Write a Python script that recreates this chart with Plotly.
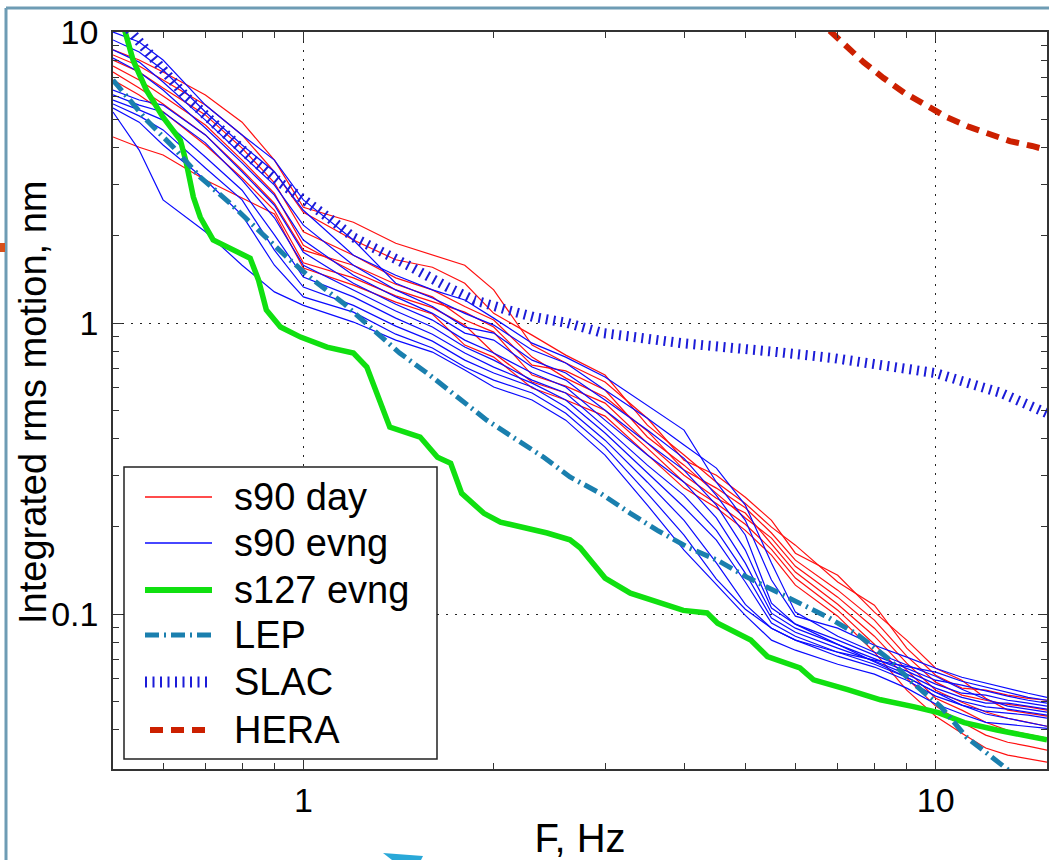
import plotly.graph_objects as go

# ---------------- data ----------------
freq_grid = [0.5, 0.55, 0.6, 0.7, 0.8, 0.9, 1.0, 1.2, 1.4, 1.6, 1.8, 2.0, 2.3, 2.6, 3.0,
             3.5, 4.0, 4.5, 5.0, 5.5, 6.0, 7.0, 8.0, 9.0, 10, 11, 12, 13, 14, 15]

s90_day = [
    [8.68, 8.01, 7.29, 6.08, 4.90, 3.63, 2.50, 2.22, 1.88, 1.71, 1.58, 1.30, 0.840, 0.729, 0.627,
     0.471, 0.338, 0.300, 0.252, 0.210, 0.162, 0.136, 0.1016, 0.0814, 0.0652, 0.0593, 0.0514, 0.0468, 0.0457, 0.0446],
    [8.34, 7.64, 6.84, 5.61, 4.43, 3.31, 2.40, 1.93, 1.65, 1.555, 1.37, 1.08, 0.909, 0.776, 0.663,
     0.446, 0.352, 0.284, 0.240, 0.199, 0.1726, 0.1289, 0.1074, 0.0764, 0.0617, 0.0557, 0.0548, 0.0527, 0.0514, 0.0506],
    [8.01, 7.29, 6.42, 5.19, 3.99, 3.03, 2.06, 1.71, 1.43, 1.30, 1.14, 1.024, 0.764, 0.647, 0.557,
     0.426, 0.3125, 0.271, 0.232, 0.190, 0.1533, 0.1209, 0.0954, 0.0717, 0.0584, 0.0527, 0.0506, 0.0490, 0.0480, 0.0468],
    [7.64, 6.84, 6.03, 4.79, 3.63, 2.79, 1.85, 1.50, 1.30, 1.18, 1.09, 0.969, 0.717, 0.685, 0.589,
     0.406, 0.325, 0.260, 0.214, 0.1825, 0.146, 0.1144, 0.0895, 0.0679, 0.0548, 0.0498, 0.0461, 0.0439, 0.0425, 0.0412],
    [7.29, 6.42, 5.66, 4.43, 3.36, 2.58, 1.78, 1.58, 1.36, 1.23, 1.024, 0.931, 0.663, 0.607, 0.531,
     0.387, 0.300, 0.250, 0.2225, 0.174, 0.1395, 0.1082, 0.0840, 0.0642, 0.0514, 0.0468, 0.0425, 0.0399, 0.0387, 0.0375],
    [6.84, 6.08, 5.32, 4.09, 3.15, 2.44, 1.61, 1.43, 1.24, 1.13, 0.984, 0.789, 0.627, 0.575, 0.502,
     0.372, 0.284, 0.240, 0.2035, 0.167, 0.133, 0.1032, 0.0788, 0.0603, 0.0483, 0.0425, 0.0384, 0.0363, 0.0352, 0.0341],
    [4.36, 4.02, 3.78, 3.10, 2.69, 2.37, 1.545, 1.35, 1.18, 1.074, 0.840, 0.764, 0.598, 0.544, 0.479,
     0.352, 0.271, 0.232, 0.194, 0.1595, 0.1258, 0.0984, 0.0740, 0.0548, 0.0446, 0.0390, 0.0347, 0.0328, 0.0318, 0.0310],
]

s90_evng = [
    [10.0, 9.24, 8.01, 5.61, 4.43, 3.63, 2.65, 1.93, 1.37, 1.22, 1.08, 0.984, 0.808, 0.729, 0.589,
     0.471, 0.381, 0.3175, 0.237, 0.150, 0.1016, 0.0840, 0.0740, 0.0668, 0.0612, 0.0552, 0.0510, 0.0483, 0.0472, 0.0461],
    [9.39, 8.54, 7.40, 5.31, 4.09, 3.31, 2.44, 1.71, 1.46, 1.30, 1.20, 1.04, 0.853, 0.764, 0.653,
     0.523, 0.429, 0.284, 0.210, 0.131, 0.0984, 0.0895, 0.0782, 0.0712, 0.0652, 0.0607, 0.0579, 0.0557, 0.0535, 0.0518],
    [8.68, 7.88, 6.73, 4.98, 3.78, 2.98, 2.17, 1.58, 1.30, 1.14, 0.969, 0.924, 0.746, 0.674, 0.544,
     0.429, 0.343, 0.256, 0.187, 0.109, 0.0924, 0.0788, 0.0690, 0.0607, 0.0539, 0.0487, 0.0454, 0.0439, 0.0425, 0.0412],
    [8.14, 7.29, 6.32, 4.68, 3.55, 2.75, 1.93, 1.46, 1.23, 1.08, 0.924, 0.874, 0.706, 0.637, 0.502,
     0.387, 0.3125, 0.237, 0.166, 0.1049, 0.0924, 0.0814, 0.0723, 0.0652, 0.0593, 0.0570, 0.0544, 0.0523, 0.0506, 0.0495],
    [6.32, 5.84, 5.61, 4.43, 3.31, 2.54, 1.75, 1.37, 1.16, 1.024, 0.874, 0.789, 0.674, 0.603, 0.464,
     0.352, 0.284, 0.214, 0.1497, 0.1008, 0.0895, 0.0788, 0.0706, 0.0637, 0.0575, 0.0535, 0.0527, 0.0506, 0.0495, 0.0483],
    [6.08, 5.61, 5.31, 4.16, 3.10, 2.30, 1.58, 1.30, 1.10, 0.969, 0.827, 0.746, 0.637, 0.575, 0.439,
     0.325, 0.256, 0.194, 0.1384, 0.0969, 0.0867, 0.0764, 0.0690, 0.0622, 0.0557, 0.0518, 0.0495, 0.0495, 0.0483, 0.0472],
    [5.84, 5.40, 4.98, 3.72, 2.86, 2.01, 1.44, 1.23, 1.04, 0.916, 0.789, 0.706, 0.622, 0.544, 0.419,
     0.305, 0.233, 0.1796, 0.129, 0.0932, 0.0840, 0.0740, 0.0673, 0.0607, 0.0539, 0.0502, 0.0480, 0.0472, 0.0461, 0.0450],
    [5.66, 5.15, 4.61, 3.41, 2.65, 1.78, 1.33, 1.15, 0.976, 0.867, 0.746, 0.674, 0.603, 0.515, 0.396,
     0.284, 0.210, 0.150, 0.1080, 0.0895, 0.0814, 0.0717, 0.0658, 0.0593, 0.0523, 0.0487, 0.0464, 0.0457, 0.0450, 0.0439],
    [5.48, 4.90, 4.09, 3.10, 2.35, 1.58, 1.23, 1.09, 0.916, 0.821, 0.706, 0.637, 0.575, 0.490, 0.375,
     0.260, 0.187, 0.132, 0.1040, 0.0895, 0.0814, 0.0740, 0.0695, 0.0663, 0.0632, 0.0588, 0.0561, 0.0539, 0.0518, 0.0506],
    [5.31, 3.93, 2.65, 2.06, 1.58, 1.28, 1.15, 1.008, 0.874, 0.795, 0.690, 0.603, 0.544, 0.464, 0.352,
     0.237, 0.166, 0.1262, 0.0990, 0.0814, 0.0752, 0.0673, 0.0622, 0.0557, 0.0491, 0.0454, 0.0425, 0.0418, 0.0412, 0.0405],
]

s127_freq = [0.52, 0.538, 0.565, 0.60, 0.639, 0.653, 0.670, 0.687, 0.720, 0.766, 0.824, 0.849, 0.874,
             0.92, 0.99, 1.09, 1.20, 1.26, 1.32, 1.37, 1.53, 1.63, 1.71, 1.78, 1.93, 2.05, 2.43, 2.64,
             2.74, 3.0, 3.29, 3.54, 3.99, 4.35, 4.52, 5.1, 5.42, 6.1, 6.41, 7.26, 8.18, 9.22, 10.1,
             11.1, 12.5, 15]
s127_evng = [10.4, 8.0, 6.3, 5.1, 4.25, 3.55, 2.71, 2.31, 1.93, 1.80, 1.67, 1.41, 1.11,
             0.969, 0.895, 0.827, 0.789, 0.706, 0.544, 0.439, 0.406, 0.346, 0.33, 0.26, 0.222, 0.207, 0.19, 0.18,
             0.169, 0.133, 0.118, 0.112, 0.103, 0.101, 0.093, 0.0815, 0.0715, 0.0654, 0.0595, 0.055, 0.0508, 0.0481, 0.0459,
             0.0424, 0.040, 0.037]

lep_freq = [0.5, 0.565, 0.623, 0.687, 0.766, 0.849, 0.94, 1.037, 1.157, 1.286, 1.42, 1.57, 1.75, 1.95,
            2.18, 2.4, 2.64, 2.95, 3.29, 3.63, 4.05, 4.52, 5.03, 5.53, 6.12, 6.75, 7.53, 8.4, 9.22,
            10.2, 11.2, 12.6, 13.2]
lep = [6.84, 4.98, 4.02, 3.17, 2.58, 2.09, 1.69, 1.405, 1.17, 0.954, 0.789, 0.673, 0.557, 0.464,
       0.396, 0.346, 0.296, 0.26, 0.222, 0.194, 0.17, 0.153, 0.134, 0.121, 0.109, 0.0977, 0.0849, 0.0706, 0.0578,
       0.048, 0.0377, 0.0307, 0.0285]

slac_freq = [0.53, 0.573, 0.607, 0.653, 0.713, 0.775, 0.843, 0.92, 1.0, 1.10, 1.2, 1.32, 1.48, 1.69,
             1.86, 2.10, 2.31, 2.62, 2.98, 3.95, 4.79, 5.62, 6.9, 10, 12.7, 15]
slac = [10.2, 8.48, 7.2, 5.98, 4.98, 4.25, 3.55, 3.03, 2.67, 2.29, 1.97, 1.78, 1.56, 1.33,
        1.2, 1.11, 1.05, 1.0, 0.924, 0.854, 0.827, 0.795, 0.758, 0.673, 0.575, 0.49]

hera_freq = [6.8, 7.13, 7.69, 8.27, 8.93, 9.71, 10.4, 11.3, 12.2, 13.1, 14.2, 15]
hera = [10.1, 9.17, 7.88, 6.95, 6.17, 5.57, 5.10, 4.72, 4.46, 4.22, 4.06, 3.93]

legend_labels = ["s90 day", "s90 evng", "s127 evng", "LEP", "SLAC", "HERA"]

x_major = [1, 10]
x_minor = [0.6, 0.7, 0.8, 0.9, 2, 3, 4, 5, 6, 7, 8, 9]
y_major = [0.1, 1, 10]
y_minor = [0.04, 0.05, 0.06, 0.07, 0.08, 0.09, 0.2, 0.3, 0.4, 0.5, 0.6, 0.7, 0.8, 0.9,
           2, 3, 4, 5, 6, 7, 8, 9]

# ---------------- styles ----------------
RED = "#ff1010"
BLUE = "#0a0aff"
GREEN = "#10e010"
LEPC = "#1a7fae"
SLACC = "#1c1cd8"
HERAC = "#cc2000"
FONT = "Liberation Sans, Arial, sans-serif"

fig = go.Figure()

for ys in s90_day:
    fig.add_trace(go.Scatter(x=freq_grid, y=ys, mode="lines", name="s90 day",
                             legendgroup="day", showlegend=False,
                             line=dict(color=RED, width=1.2)))
for ys in s90_evng:
    fig.add_trace(go.Scatter(x=freq_grid, y=ys, mode="lines", name="s90 evng",
                             legendgroup="evng", showlegend=False,
                             line=dict(color=BLUE, width=1.2)))
fig.add_trace(go.Scatter(x=s127_freq, y=s127_evng, mode="lines", name="s127 evng",
                         showlegend=False, line=dict(color=GREEN, width=5.5)))
fig.add_trace(go.Scatter(x=lep_freq, y=lep, mode="lines", name="LEP", showlegend=False,
                         line=dict(color=LEPC, width=5, dash="14px,5px,2px,5px")))
fig.add_trace(go.Scatter(x=slac_freq, y=slac, mode="lines", name="SLAC", showlegend=False,
                         line=dict(color=SLACC, width=10, dash="2px,5.5px")))
fig.add_trace(go.Scatter(x=hera_freq, y=hera, mode="lines", name="HERA", showlegend=False,
                         line=dict(color=HERAC, width=6, dash="13px,8px")))

axis_common = dict(
    type="log", showline=True, linecolor="#333333", linewidth=1.5, mirror="allticks",
    ticks="inside", ticklen=9, tickwidth=1.3, tickcolor="#333333",
    showgrid=True, gridcolor="#222222", gridwidth=1.3, griddash="2px,7px",
    zeroline=False, automargin=False,
    tickfont=dict(family=FONT, size=34, color="black"),
    minor=dict(ticks="inside", ticklen=6, tickwidth=1.3, tickcolor="#333333", showgrid=False),
)

fig.update_xaxes(**axis_common, range=[-0.30103, 1.17609],
                 tickmode="array", tickvals=x_major, ticktext=["1", "10"],
                 ticklabelstandoff=0,
                 title=dict(text="F, Hz", font=dict(family=FONT, size=40, color="black"), standoff=6))
fig.update_xaxes(minor=dict(tickmode="array", tickvals=x_minor))
fig.update_yaxes(**axis_common, range=[-1.532, 1.0],
                 tickmode="array", tickvals=y_major, ticktext=["0.1", "1", "10"],
                 ticklabelstandoff=6)
fig.update_yaxes(minor=dict(tickmode="array", tickvals=y_minor))

# ---------------- legend and titles (paper coordinates) ----------------
L, R, T, B = 113.0, 1047.0, 32.0, 769.0


def px(x):
    return (x - L) / (R - L)


def py(y):
    return (B - y) / (B - T)


shapes = []
shapes.append(dict(type="rect", xref="paper", yref="paper", x0=px(124), x1=px(437),
                   y0=py(759), y1=py(467), fillcolor="white",
                   line=dict(color="#222222", width=1.5), layer="above"))
rows = [497, 543, 590, 635, 682, 730]
styles = [
    dict(color=RED, width=1.5), dict(color=BLUE, width=1.5), dict(color=GREEN, width=6),
    dict(color=LEPC, width=5, dash="14px,5px,2px,5px"), dict(color=SLACC, width=11, dash="2px,5.5px"),
    dict(color=HERAC, width=6, dash="13px,8px"),
]
xs = [(145, 212), (145, 212), (145, 212), (145, 212), (145, 208), (150, 208)]
annotations = []
for ry, st, (a, b), lab in zip(rows, styles, xs, legend_labels):
    shapes.append(dict(type="line", xref="paper", yref="paper", x0=px(a), x1=px(b),
                       y0=py(ry), y1=py(ry), line=st, layer="above"))
    annotations.append(dict(xref="paper", yref="paper", x=px(232), y=py(ry), text=lab,
                            showarrow=False, xanchor="left", yanchor="middle",
                            font=dict(family=FONT, size=38, color="black")))

annotations.append(dict(xref="paper", yref="paper", x=px(33), y=py(402),
                        text="Integrated rms motion, nm", textangle=-90, showarrow=False,
                        xanchor="center", yanchor="middle",
                        font=dict(family=FONT, size=38, color="black")))

# slide frame decorations
FRAME = "#6e9cb4"
shapes.append(dict(type="line", xref="paper", yref="paper", x0=px(6), x1=px(1049),
                   y0=py(8), y1=py(8), line=dict(color=FRAME, width=3), layer="above"))
shapes.append(dict(type="line", xref="paper", yref="paper", x0=px(6), x1=px(6),
                   y0=py(8), y1=py(860), line=dict(color=FRAME, width=3), layer="above"))
shapes.append(dict(type="rect", xref="paper", yref="paper", x0=px(0), x1=px(5),
                   y0=py(252), y1=py(243), fillcolor="#d8501a", line=dict(width=0), layer="above"))
shapes.append(dict(type="path", xref="paper", yref="paper",
                   path=f"M{px(383)},{py(853)} L{px(423)},{py(856)} L{px(421)},{py(860)} L{px(392)},{py(860)} Z",
                   fillcolor="#29a8d8", line=dict(width=0), layer="above"))

fig.update_layout(
    width=1049, height=860,
    margin=dict(l=113, r=2, t=32, b=91),
    paper_bgcolor="white", plot_bgcolor="white",
    showlegend=False,
    shapes=shapes, annotations=annotations,
    font=dict(family=FONT, color="black"),
)

fig.write_html("out.html", config={"displayModeBar": False},
               post_script="document.body.style.margin='0px';document.body.style.overflow='hidden';")
